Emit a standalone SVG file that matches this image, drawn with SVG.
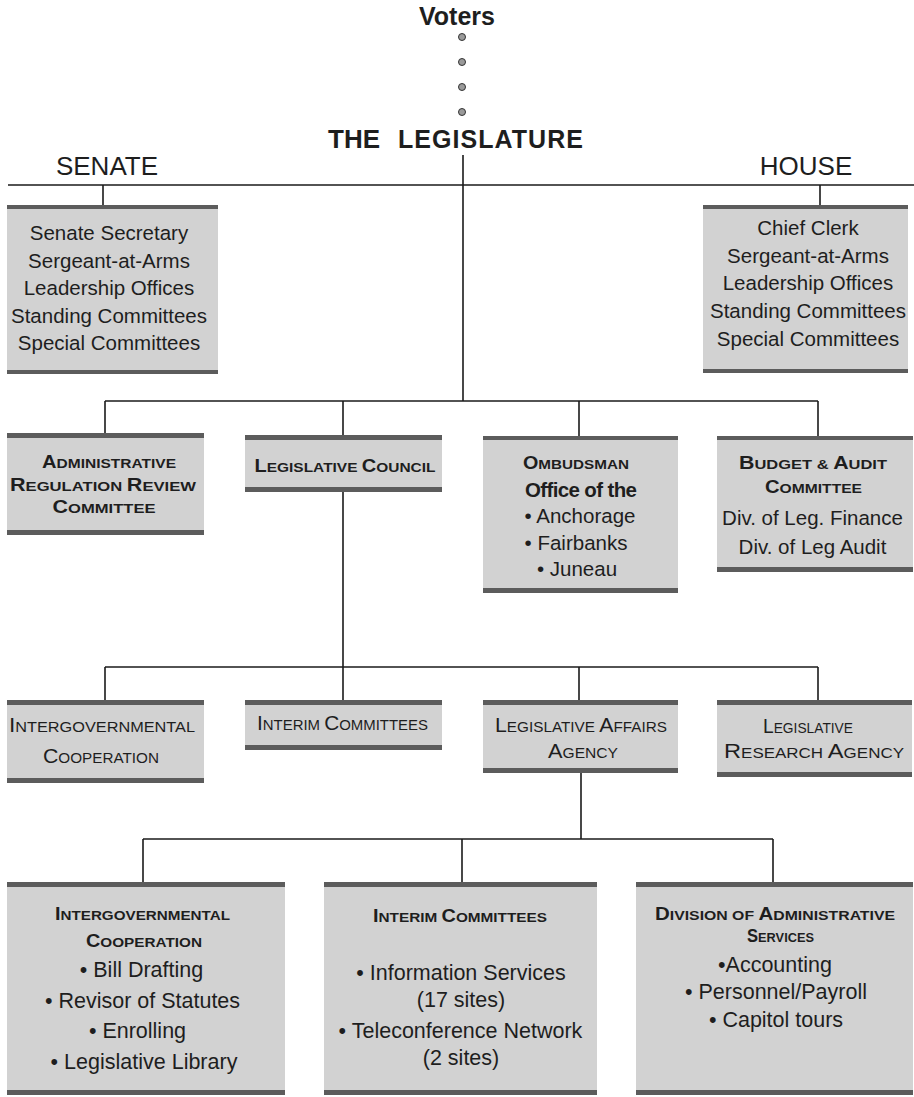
<svg xmlns="http://www.w3.org/2000/svg" width="914" height="1097" viewBox="0 0 914 1097">
<style>
.t{font-family:"Liberation Sans",Arial,Helvetica,sans-serif;fill:#1e1e1e;text-anchor:middle}
.b{font-weight:bold}
.r21{font-size:20.5px}
.r20{font-size:20.5px}
.r22{font-size:21.5px}
.hb{font-weight:bold;font-size:13.5px}
.hr{font-size:14px}
.cb{font-size:17.5px}
.cr{font-size:19.5px}
.bx{fill:#d2d2d2}
.bd{fill:#5c5c5c}
.ln{stroke:#1a1a1a;stroke-width:1.6;fill:none}
.dot{fill:#9a9a9a;stroke:#333;stroke-width:1}
</style>

<g id="connectors">
  <line class="ln" x1="463" y1="155" x2="463" y2="401"/>
  <line class="ln" x1="8" y1="185" x2="914" y2="185"/>
  <line class="ln" x1="103" y1="185" x2="103" y2="206"/>
  <line class="ln" x1="820" y1="185" x2="820" y2="206"/>
  <line class="ln" x1="105" y1="401" x2="818" y2="401"/>
  <line class="ln" x1="105" y1="401" x2="105" y2="434"/>
  <line class="ln" x1="343" y1="401" x2="343" y2="436"/>
  <line class="ln" x1="579" y1="401" x2="579" y2="437"/>
  <line class="ln" x1="818" y1="401" x2="818" y2="437"/>
  <line class="ln" x1="343" y1="491" x2="343" y2="667"/>
  <line class="ln" x1="105" y1="667" x2="818" y2="667"/>
  <line class="ln" x1="105" y1="667" x2="105" y2="701"/>
  <line class="ln" x1="343" y1="667" x2="343" y2="701"/>
  <line class="ln" x1="579" y1="667" x2="579" y2="701"/>
  <line class="ln" x1="818" y1="667" x2="818" y2="701"/>
  <line class="ln" x1="581" y1="772" x2="581" y2="839"/>
  <line class="ln" x1="143" y1="839" x2="773" y2="839"/>
  <line class="ln" x1="143" y1="839" x2="143" y2="883"/>
  <line class="ln" x1="462" y1="839" x2="462" y2="883"/>
  <line class="ln" x1="773" y1="839" x2="773" y2="883"/>
  <circle class="dot" cx="462" cy="37" r="3.5"/>
  <circle class="dot" cx="462" cy="62" r="3.5"/>
  <circle class="dot" cx="462" cy="87" r="3.5"/>
  <circle class="dot" cx="462" cy="112" r="3.5"/>
</g>

<g id="voters">
  <text class="t b" x="457" y="25" font-size="25">Voters</text>
</g>

<g id="legislature">
  <text class="t b" x="354" y="148" font-size="25" textLength="52" lengthAdjust="spacingAndGlyphs">THE</text>
  <text class="t b" x="490.5" y="148" font-size="25" textLength="185" lengthAdjust="spacing">LEGISLATURE</text>
</g>

<g id="senate-label">
  <text class="t" x="107" y="175" font-size="26">SENATE</text>
</g>
<g id="house-label">
  <text class="t" x="806" y="175" font-size="26">HOUSE</text>
</g>

<g id="senate">
  <rect class="bx" x="7" y="205" width="211" height="169"/>
  <rect class="bd" x="7" y="205" width="211" height="4"/>
  <rect class="bd" x="7" y="370" width="211" height="4"/>
  <text class="t r21" x="109" y="240">Senate Secretary</text>
  <text class="t r21" x="109" y="267.5">Sergeant-at-Arms</text>
  <text class="t r21" x="109" y="295">Leadership Offices</text>
  <text class="t r21" x="109" y="322.5">Standing Committees</text>
  <text class="t r21" x="109" y="350">Special Committees</text>
</g>

<g id="house">
  <rect class="bx" x="703" y="205" width="205" height="168"/>
  <rect class="bd" x="703" y="205" width="205" height="4"/>
  <rect class="bd" x="703" y="369" width="205" height="4"/>
  <text class="t r21" x="808" y="235">Chief Clerk</text>
  <text class="t r21" x="808" y="263">Sergeant-at-Arms</text>
  <text class="t r21" x="808" y="290">Leadership Offices</text>
  <text class="t r21" x="808" y="318">Standing Committees</text>
  <text class="t r21" x="808" y="346">Special Committees</text>
</g>

<g id="admin-reg-review">
  <rect class="bx" x="7" y="433" width="197" height="102"/>
  <rect class="bd" x="7" y="433" width="197" height="5"/>
  <rect class="bd" x="7" y="530" width="197" height="5"/>
  <text class="t hb" x="109" y="468" textLength="134" lengthAdjust="spacingAndGlyphs"><tspan class="cb">A</tspan>DMINISTRATIVE</text>
  <text class="t hb" x="103" y="491" textLength="186" lengthAdjust="spacingAndGlyphs"><tspan class="cb">R</tspan>EGULATION <tspan class="cb">R</tspan>EVIEW</text>
  <text class="t hb" x="104" y="513" textLength="103" lengthAdjust="spacingAndGlyphs"><tspan class="cb">C</tspan>OMMITTEE</text>
</g>

<g id="legislative-council">
  <rect class="bx" x="245" y="435" width="197" height="57"/>
  <rect class="bd" x="245" y="435" width="197" height="5"/>
  <rect class="bd" x="245" y="487" width="197" height="5"/>
  <text class="t hb" x="345" y="472" textLength="181" lengthAdjust="spacingAndGlyphs"><tspan class="cb">L</tspan>EGISLATIVE <tspan class="cb">C</tspan>OUNCIL</text>
</g>

<g id="ombudsman">
  <rect class="bx" x="483" y="436" width="195" height="157"/>
  <rect class="bd" x="483" y="436" width="195" height="4"/>
  <rect class="bd" x="483" y="588" width="195" height="5"/>
  <text class="t hb" x="576" y="469" textLength="106" lengthAdjust="spacingAndGlyphs"><tspan class="cb">O</tspan>MBUDSMAN</text>
  <text class="t b r20" x="581" y="497" textLength="112" lengthAdjust="spacing" fill="#333">Office of the</text>
  <text class="t r20" x="580" y="523">• Anchorage</text>
  <text class="t r20" x="576" y="550">• Fairbanks</text>
  <text class="t r20" x="577" y="576">• Juneau</text>
</g>

<g id="budget-audit">
  <rect class="bx" x="717" y="436" width="196" height="136"/>
  <rect class="bd" x="717" y="436" width="196" height="4"/>
  <rect class="bd" x="717" y="567" width="196" height="5"/>
  <text class="t hb" x="813" y="469" textLength="148" lengthAdjust="spacingAndGlyphs"><tspan class="cb">B</tspan>UDGET &amp; <tspan class="cb">A</tspan>UDIT</text>
  <text class="t hb" x="813.5" y="493" textLength="97" lengthAdjust="spacingAndGlyphs"><tspan class="cb">C</tspan>OMMITTEE</text>
  <text class="t r20" x="812.5" y="525">Div. of Leg. Finance</text>
  <text class="t r20" x="812.5" y="554">Div. of Leg Audit</text>
</g>

<g id="intergov-coop-1">
  <rect class="bx" x="7" y="700" width="197" height="83"/>
  <rect class="bd" x="7" y="700" width="197" height="5"/>
  <rect class="bd" x="7" y="778" width="197" height="5"/>
  <text class="t hr" x="102" y="732" textLength="186" lengthAdjust="spacingAndGlyphs"><tspan class="cr">I</tspan>NTERGOVERNMENTAL</text>
  <text class="t hr" x="101" y="763" textLength="116" lengthAdjust="spacingAndGlyphs"><tspan class="cr">C</tspan>OOPERATION</text>
</g>

<g id="interim-committees-1">
  <rect class="bx" x="245" y="700" width="197" height="50"/>
  <rect class="bd" x="245" y="700" width="197" height="5"/>
  <rect class="bd" x="245" y="745" width="197" height="5"/>
  <text class="t hr" x="342.5" y="730" textLength="171" lengthAdjust="spacingAndGlyphs"><tspan class="cr">I</tspan>NTERIM <tspan class="cr">C</tspan>OMMITTEES</text>
</g>

<g id="legislative-affairs">
  <rect class="bx" x="483" y="700" width="195" height="73"/>
  <rect class="bd" x="483" y="700" width="195" height="5"/>
  <rect class="bd" x="483" y="768" width="195" height="5"/>
  <text class="t hr" x="581" y="732" textLength="172" lengthAdjust="spacingAndGlyphs"><tspan class="cr">L</tspan>EGISLATIVE <tspan class="cr">A</tspan>FFAIRS</text>
  <text class="t hr" x="583" y="758" textLength="70" lengthAdjust="spacingAndGlyphs"><tspan class="cr">A</tspan>GENCY</text>
</g>

<g id="legislative-research">
  <rect class="bx" x="717" y="700" width="195" height="77"/>
  <rect class="bd" x="717" y="700" width="195" height="5"/>
  <rect class="bd" x="717" y="772" width="195" height="5"/>
  <text class="t hr" x="808" y="733" textLength="90" lengthAdjust="spacingAndGlyphs"><tspan class="cr">L</tspan>EGISLATIVE</text>
  <text class="t hr" x="814" y="758" textLength="180" lengthAdjust="spacingAndGlyphs"><tspan class="cr">R</tspan>ESEARCH <tspan class="cr">A</tspan>GENCY</text>
</g>

<g id="intergov-coop-2">
  <rect class="bx" x="7" y="882" width="278" height="213"/>
  <rect class="bd" x="7" y="882" width="278" height="5"/>
  <rect class="bd" x="7" y="1090" width="278" height="5"/>
  <text class="t hb" x="142.5" y="920" textLength="175" lengthAdjust="spacingAndGlyphs"><tspan class="cb">I</tspan>NTERGOVERNMENTAL</text>
  <text class="t hb" x="144" y="947" textLength="116" lengthAdjust="spacingAndGlyphs"><tspan class="cb">C</tspan>OOPERATION</text>
  <text class="t r22" x="141.5" y="977">• Bill Drafting</text>
  <text class="t r22" x="142.5" y="1008">• Revisor of Statutes</text>
  <text class="t r22" x="137.5" y="1038">• Enrolling</text>
  <text class="t r22" x="144" y="1069">• Legislative Library</text>
</g>

<g id="interim-committees-2">
  <rect class="bx" x="324" y="882" width="273" height="213"/>
  <rect class="bd" x="324" y="882" width="273" height="5"/>
  <rect class="bd" x="324" y="1090" width="273" height="5"/>
  <text class="t hb" x="460" y="922" textLength="174" lengthAdjust="spacingAndGlyphs"><tspan class="cb">I</tspan>NTERIM <tspan class="cb">C</tspan>OMMITTEES</text>
  <text class="t r22" x="461" y="980">• Information Services</text>
  <text class="t r22" x="461" y="1007">(17 sites)</text>
  <text class="t r22" x="460.5" y="1038">• Teleconference Network</text>
  <text class="t r22" x="461" y="1065">(2 sites)</text>
</g>

<g id="admin-services">
  <rect class="bx" x="636" y="882" width="277" height="213"/>
  <rect class="bd" x="636" y="882" width="277" height="5"/>
  <rect class="bd" x="636" y="1090" width="277" height="5"/>
  <text class="t hb" x="775" y="920" textLength="240" lengthAdjust="spacingAndGlyphs"><tspan class="cb">D</tspan>IVISION OF <tspan class="cb">A</tspan>DMINISTRATIVE</text>
  <text class="t hb" x="780.5" y="942" textLength="67" lengthAdjust="spacingAndGlyphs"><tspan class="cb">S</tspan>ERVICES</text>
  <text class="t r22" x="775" y="972">•Accounting</text>
  <text class="t r22" x="776" y="999">• Personnel/Payroll</text>
  <text class="t r22" x="776" y="1027">• Capitol tours</text>
</g>
</svg>
